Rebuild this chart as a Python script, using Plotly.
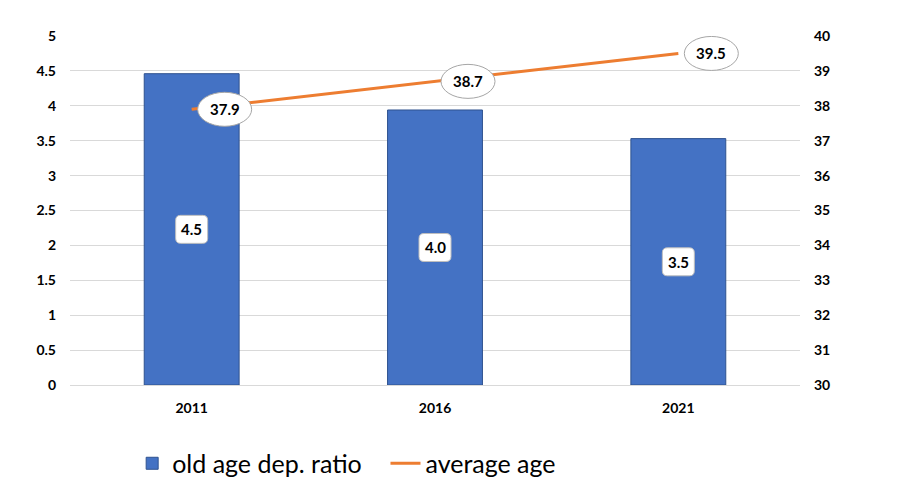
import plotly.graph_objects as go

years = ["2011", "2016", "2021"]
dep_ratio = [4.46, 3.94, 3.53]
dep_labels = ["4.5", "4.0", "3.5"]
avg_age = [37.9, 38.7, 39.5]
left_ticks = [0, 0.5, 1, 1.5, 2, 2.5, 3, 3.5, 4, 4.5, 5]
right_ticks = [30, 31, 32, 33, 34, 35, 36, 37, 38, 39, 40]

BLUE = "#4472C4"
ORANGE = "#ED7D31"
FONT = "Lato, 'Open Sans', sans-serif"

fig = go.Figure()
fig.add_trace(go.Bar(
    x=years, y=dep_ratio, name="old age dep. ratio\u2003",
    marker=dict(color=BLUE, line=dict(color="#2F528F", width=1)),
    yaxis="y",
))
fig.add_trace(go.Scatter(
    x=years, y=avg_age, name="average age", mode="lines",
    line=dict(color=ORANGE, width=3), yaxis="y2",
))

shapes = []
annotations = []
rr = ("M -11,-14 L 11,-14 Q 16,-14 16,-9 L 16,9 Q 16,14 11,14 "
      "L -11,14 Q -16,14 -16,9 L -16,-9 Q -16,-14 -11,-14 Z")
for i, (v, t) in enumerate(zip(dep_ratio, dep_labels)):
    shapes.append(dict(type="path", xref="x", yref="y", xsizemode="pixel", ysizemode="pixel",
                       xanchor=i, yanchor=v / 2, path=rr,
                       fillcolor="white", line=dict(color="#BFBFBF", width=1), layer="above"))
    annotations.append(dict(x=i, y=v / 2, xref="x", yref="y", text=f"<b>{t}</b>",
                            showarrow=False, font=dict(size=15, color="black", family=FONT)))
for i, v in enumerate(avg_age):
    shapes.append(dict(type="circle", xref="x", yref="y2", xsizemode="pixel", ysizemode="pixel",
                       xanchor=i, yanchor=v, x0=33 - 27, x1=33 + 27, y0=-17, y1=17,
                       fillcolor="white", line=dict(color="#A6A6A6", width=1), layer="above"))
    annotations.append(dict(x=i, y=v, xref="x", yref="y2", text=f"<b>{v:.1f}</b>",
                            xshift=33, showarrow=False,
                            font=dict(size=15, color="black", family=FONT)))

tickfont = dict(size=14, family=FONT, weight="bold", color="black")

fig.update_layout(
    width=900, height=502,
    margin=dict(l=62, r=108, t=28, b=125),
    paper_bgcolor="white", plot_bgcolor="white",
    font=dict(family=FONT, color="black"),
    bargap=0.61,
    showlegend=True,
    legend=dict(orientation="h", x=0.379, xanchor="center", y=-0.225, yanchor="middle",
                font=dict(size=25, family=FONT, color="black"), itemwidth=30),
    xaxis=dict(type="category", showgrid=False, showline=True, linecolor="#D9D9D9",
               ticks="", tickfont=tickfont, ticklabelstandoff=10),
    yaxis=dict(range=[0, 5], tickvals=left_ticks, showgrid=True, gridcolor="#D9D9D9",
               zeroline=False, showline=False, ticks="",
               tickfont=tickfont, ticklabelstandoff=13),
    yaxis2=dict(range=[30, 40], tickvals=right_ticks, overlaying="y", side="right",
                showgrid=False, zeroline=False, showline=False,
                tickfont=tickfont, ticklabelstandoff=13),
    shapes=shapes, annotations=annotations,
)
fig.write_html("out.html")
